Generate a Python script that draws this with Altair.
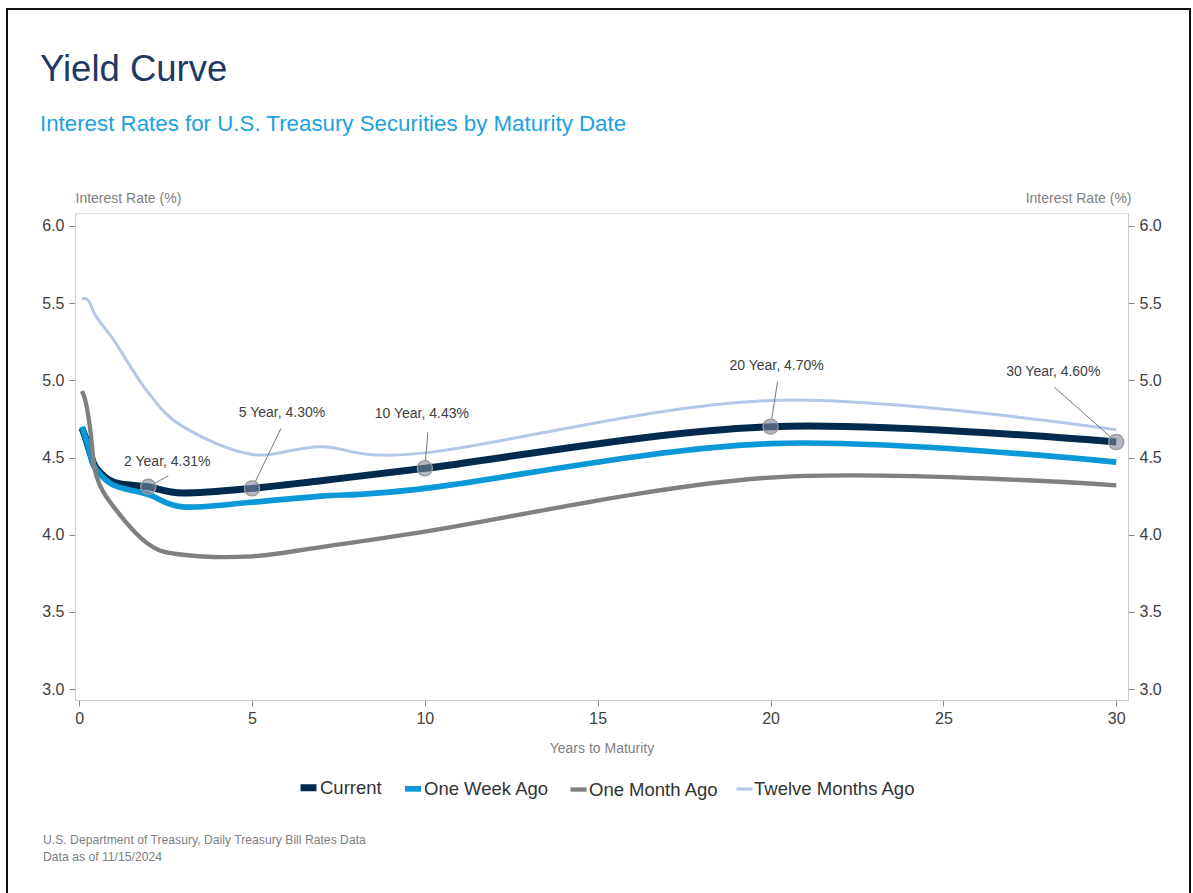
import altair as alt
import pandas as pd

# ---------------- data ----------------
maturity_years = [1/12, 2/12, 3/12, 4/12, 6/12, 1, 2, 3, 5, 7, 10, 20, 30]
series_names = ["Current", "One Week Ago", "One Month Ago", "Twelve Months Ago"]
current = [4.69, 4.64, 4.58, 4.52, 4.43, 4.34, 4.31, 4.27, 4.30, 4.35, 4.43, 4.70, 4.60]
one_week_ago = [4.70, 4.64, 4.58, 4.51, 4.42, 4.32, 4.26, 4.18, 4.21, 4.25, 4.30, 4.59, 4.47]
one_month_ago = [4.93, 4.88, 4.79, 4.66, 4.38, 4.18, 3.94, 3.87, 3.86, 3.92, 4.02, 4.37, 4.32]
twelve_months_ago = [5.53, 5.53, 5.52, 5.49, 5.41, 5.26, 4.92, 4.70, 4.52, 4.57, 4.53, 4.87, 4.68]

ann_years = [2, 5, 10, 20, 30]
ann_rates = [4.31, 4.30, 4.43, 4.70, 4.60]
ann_labels = ["2 Year, 4.31%", "5 Year, 4.30%", "10 Year, 4.43%", "20 Year, 4.70%", "30 Year, 4.60%"]

x_ticks = [0, 5, 10, 15, 20, 25, 30]
y_ticks = [3.0, 3.5, 4.0, 4.5, 5.0, 5.5, 6.0]
title_text = "Yield Curve"
subtitle_text = "Interest Rates for U.S. Treasury Securities by Maturity Date"
source_lines = ["U.S. Department of Treasury, Daily Treasury Bill Rates Data",
                "Data as of 11/15/2024"]

# ---------------- style ----------------
FONT = "Liberation Sans, Arial, sans-serif"
colors = ["#002b4f", "#0a98d8", "#808080", "#b4c7e6"]
widths = [7, 3, 3, 3]
# (leader end dx, dy), (label dx, dy) in pixels, relative to marker
ann_style = [((20, -11), (19, -25)),
             ((29, -60), (30, -75)),
             ((3, -36), (-3, -54)),
             ((7, -45), (6, -61)),
             ((-62, -55), (-63, -70))]

W, H = 1053, 487

rows = []
for name, vals in zip(series_names, [current, one_week_ago, one_month_ago, twelve_months_ago]):
    for m, v in zip(maturity_years, vals):
        rows.append({"series": name, "years": m, "rate": v})
df = pd.DataFrame(rows)
ann_df = pd.DataFrame({"years": ann_years, "rate": ann_rates, "label": ann_labels})
one_row = pd.DataFrame({"k": [0]})

xscale = alt.Scale(domain=[-0.12, 30.34], nice=False, zero=False)
yscale = alt.Scale(domain=[2.929, 6.084], nice=False, zero=False)

axis_common = dict(domainColor="#cccccc", tickColor="#888888", tickSize=6,
                   labelFont=FONT, labelFontSize=16, labelColor="#404040",
                   titleFont=FONT, titleColor="#808080",
                   titleFontWeight="normal", grid=False)

X = alt.X("years:Q", scale=xscale,
          axis=alt.Axis(values=x_ticks, title="Years to Maturity", format="d",
                        labelPadding=4, titlePadding=15, titleFontSize=14, **axis_common))
Y_left = alt.Y("rate:Q", scale=yscale,
               axis=alt.Axis(values=y_ticks, format=".1f", title="Interest Rate (%)",
                             titleAngle=0, titleAlign="left", titleBaseline="middle",
                             titleX=0, titleY=-15, labelPadding=5, titleFontSize=14,
                             **axis_common))
Y_right = alt.Y("rate:Q", scale=yscale,
                axis=alt.Axis(values=y_ticks, format=".1f", title="Interest Rate (%)",
                              orient="right",
                              titleAngle=0, titleAlign="right", titleBaseline="middle",
                              titleX=3, titleY=-15, labelPadding=5, titleFontSize=14,
                              **axis_common))
Yn = alt.Y("rate:Q", scale=yscale, axis=None)

legend_kw = dict(title=None, orient="none", legendX=222, legendY=563,
                 direction="horizontal", symbolType="stroke",
                 symbolSize=256, labelFont=FONT, labelFontSize=18.5,
                 labelColor="#333333", columnPadding=11, labelOffset=0, padding=0,
                 labelLimit=400)

frame = alt.Chart(one_row).mark_rect(
    fill=None, stroke="#111111", strokeWidth=2
).encode(x=alt.value(-68), x2=alt.value(1115), y=alt.value(-204), y2=alt.value(720))

title = alt.Chart(one_row).mark_text(
    text=title_text, font=FONT, fontSize=36.5, color="#1f3864", align="left", baseline="alphabetic"
).encode(x=alt.value(-35), y=alt.value(-132))
subtitle = alt.Chart(one_row).mark_text(
    text=subtitle_text, font=FONT, fontSize=22.3, color="#1ba1e2", align="left", baseline="alphabetic"
).encode(x=alt.value(-35), y=alt.value(-82))

lines = alt.Chart(df).mark_line(interpolate="cardinal").encode(
    x=X, y=Y_left,
    color=alt.Color("series:N", scale=alt.Scale(domain=series_names, range=colors),
                    legend=alt.Legend(**legend_kw)),
    strokeWidth=alt.StrokeWidth("series:N", scale=alt.Scale(domain=series_names, range=widths),
                                legend=alt.Legend(**legend_kw)),
    order=alt.Order("years:Q"),
)

right_axis = alt.Chart(ann_df).mark_point(opacity=0).encode(x=X, y=Y_right)

layers = [frame, title, subtitle, lines, right_axis]

for i, ((lx, ly), (tx, ty)) in enumerate(ann_style):
    one = ann_df.iloc[[i]]
    L = (lx ** 2 + ly ** 2) ** 0.5
    sx, sy = lx * 8 / L, ly * 8 / L
    layers.append(alt.Chart(one).mark_rule(
        color="#7a7a7a", strokeWidth=1,
        xOffset=sx, yOffset=sy, x2Offset=lx, y2Offset=ly
    ).encode(x=X, x2="years", y=Yn, y2="rate"))
    layers.append(alt.Chart(one).mark_text(
        dx=tx, dy=ty, font=FONT, fontSize=14, color="#404040", align="center", baseline="middle"
    ).encode(x=X, y=Yn, text="label:N"))

markers = alt.Chart(ann_df).mark_circle(
    size=230, fill="#7d889c", fillOpacity=0.6, stroke="#9a9a9a", strokeWidth=1.3, opacity=1
).encode(x=X, y=Yn)
layers.append(markers)

source = alt.Chart(one_row).mark_text(
    text=source_lines, font=FONT, fontSize=12.2, color="#808080", align="left",
    baseline="alphabetic", lineHeight=17
).encode(x=alt.value(-32), y=alt.value(631))
layers.append(source)

chart = alt.layer(*layers).resolve_axis(y="independent").properties(
    width=W, height=H,
    autosize=alt.AutoSizeParams(type="none"),
    padding={"left": 75, "top": 213, "right": 65, "bottom": 193},
).configure_view(strokeOpacity=0, strokeWidth=0).configure(background="white")

chart.save("out.html", embed_options={"renderer": "svg", "actions": False})
